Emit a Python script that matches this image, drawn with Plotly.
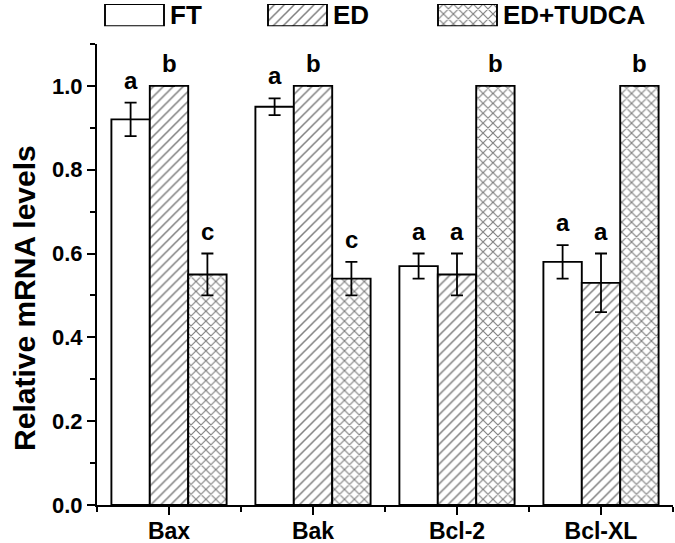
import plotly.graph_objects as go

genes = ["Bax", "Bak", "Bcl-2", "Bcl-XL"]

ft_vals = [0.92, 0.95, 0.57, 0.58]
ft_err = [0.04, 0.02, 0.03, 0.04]
ft_letters = ["a", "a", "a", "a"]

ed_vals = [1.0, 1.0, 0.55, 0.53]
ed_err = [None, None, 0.05, 0.07]
ed_letters = ["b", "b", "a", "a"]

tudca_vals = [0.55, 0.54, 1.0, 1.0]
tudca_err = [0.05, 0.04, None, None]
tudca_letters = ["c", "c", "b", "b"]

group_names = ["FT", "ED", "ED+TUDCA"]
patterns = ["", "/", "x"]
solidities = [0.2, 0.22, 0.3]

x_pos = list(range(len(genes)))
BARGAP = 0.2
bar_w = (1 - BARGAP) / 3

series = [
    (ft_vals, ft_err, ft_letters),
    (ed_vals, ed_err, ed_letters),
    (tudca_vals, tudca_err, tudca_letters),
]

def bar_marker(shape, solidity):
    return dict(
        color="white",
        line=dict(color="black", width=1.9),
        pattern=dict(shape=shape, fgcolor="black", bgcolor="white",
                     size=7, solidity=solidity, fillmode="overlay"),
    )

fig = go.Figure()
for i, (vals, errs, letters) in enumerate(series):
    offs = (i - 1) * bar_w
    fig.add_trace(go.Bar(
        x=x_pos, y=vals, name=group_names[i],
        marker=bar_marker(patterns[i], solidities[i]),
        error_y=dict(type="data", array=errs, color="black",
                     thickness=1.8, width=6, visible=True),
    ))
    # significance letters above each bar / error bar
    for xi, v, e, lab in zip(x_pos, vals, errs, letters):
        fig.add_annotation(x=xi + offs, y=v + (e or 0), text=lab,
                           xref="x", yref="y",
                           showarrow=False, yanchor="bottom", yshift=7,
                           font=dict(size=24, color="black"))

# legend drawn as wide swatches in a strip above the plot (pixel-like x range)
PLOT_L, PLOT_R = 97, 673
sw_left = [105, 268, 438]
sw_width = 59
fig.add_trace(go.Bar(
    y=[0] * 3, x=[sw_width] * 3, base=sw_left, orientation="h", width=1,
    xaxis="x2", yaxis="y2", showlegend=False, hoverinfo="skip",
    marker=dict(color="white", line=dict(color="black", width=1.9),
                pattern=dict(shape=patterns, fgcolor="black", bgcolor="white",
                             size=7, solidity=solidities, fillmode="overlay")),
))
for left, name in zip(sw_left, group_names):
    fig.add_annotation(x=left + sw_width + 4, y=0, xref="x2", yref="y2",
                       text=name, showarrow=False, xanchor="left",
                       font=dict(size=26, color="black"))

# y-axis title as an annotation (sits a little below the axis centre)
fig.add_annotation(text="Relative mRNA levels", textangle=-90,
                   xref="paper", yref="paper", x=-0.125, y=0.41,
                   xanchor="center", yanchor="middle", showarrow=False,
                   font=dict(size=30, color="black"))

fig.update_layout(
    width=675, height=543,
    barmode="group", bargap=BARGAP, bargroupgap=0,
    paper_bgcolor="white", plot_bgcolor="white",
    font=dict(family="Liberation Sans, Arial, sans-serif", weight="bold",
              color="black"),
    margin=dict(l=PLOT_L, r=675 - PLOT_R, t=0, b=38),
    showlegend=False,
    xaxis=dict(
        range=[-0.5, 3.5], tickvals=x_pos, ticktext=genes,
        tickfont=dict(size=23), ticklabelstandoff=-4,
        showline=True, linecolor="black", linewidth=2,
        ticks="outside", ticklen=8, tickwidth=2, tickcolor="black",
        minor=dict(tick0=-0.5, dtick=1, ticks="outside", ticklen=5,
                   tickwidth=2, tickcolor="black"),
        showgrid=False, zeroline=False, fixedrange=True,
    ),
    yaxis=dict(
        domain=[0, 0.913],
        range=[0, 1.1], tickvals=[0, 0.2, 0.4, 0.6, 0.8, 1.0],
        tickformat=".1f", tickfont=dict(size=22),
        showline=True, linecolor="black", linewidth=2,
        ticks="outside", ticklen=8, tickwidth=2, tickcolor="black",
        minor=dict(dtick=0.1, ticks="outside", ticklen=5, tickwidth=2,
                   tickcolor="black"),
        showgrid=False, zeroline=False, fixedrange=True,
    ),
    xaxis2=dict(domain=[0, 1], range=[PLOT_L, PLOT_R], anchor="y2",
                visible=False, fixedrange=True),
    yaxis2=dict(domain=[0.948, 0.992], range=[-0.5, 0.5], anchor="x2",
                visible=False, fixedrange=True),
)

# drop the browser's default body margin so the figure fills the window
fig.write_html("out.html", config={"displayModeBar": False},
               post_script="document.body.style.margin='0';")
